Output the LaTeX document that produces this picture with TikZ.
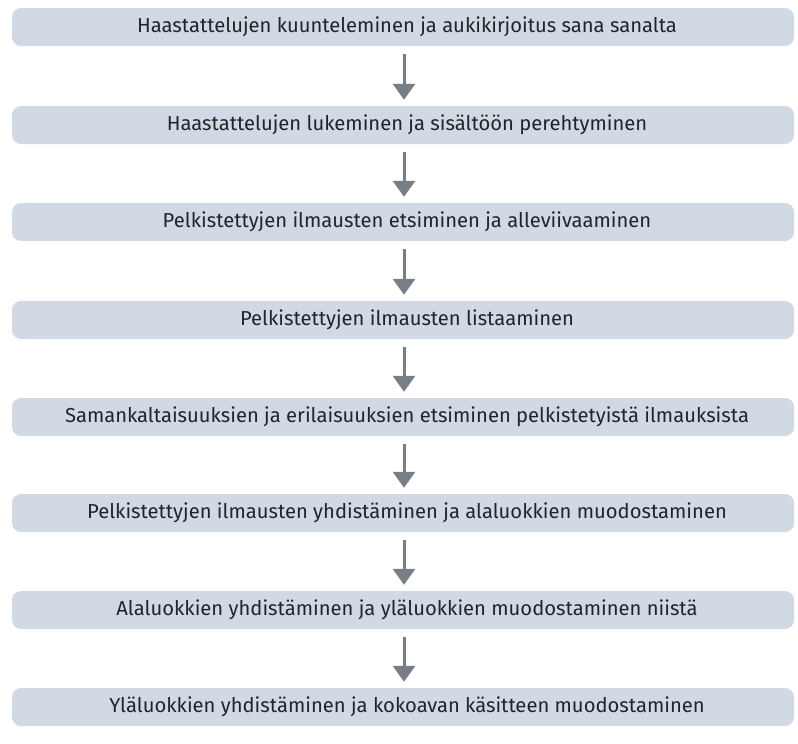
\documentclass[tikz,border=0pt]{standalone}
\usepackage{fontspec}
\setmainfont{Fira Sans}
\usetikzlibrary{arrows.meta}
\definecolor{barfill}{RGB}{208,217,228}
\definecolor{arrowgray}{RGB}{120,126,134}
\definecolor{textdark}{RGB}{34,36,40}
\tikzset{
  bar/.style={fill=barfill, rounded corners=9pt,
    minimum width=782pt, minimum height=38pt, inner sep=0pt},
  label/.style={text=textdark, font=\fontsize{20.2}{22}\selectfont, inner sep=0pt, anchor=center},
  flow/.style={draw=arrowgray, line width=3pt,
    -{Triangle[width=22pt,length=16pt,fill=arrowgray]}}
}
\begin{document}
\begin{tikzpicture}[x=1pt,y=-1pt]
  \useasboundingbox (0,0) rectangle (798,744);
  % process steps, top to bottom
  \foreach \i/\yy in {1/27,2/125,3/222,4/320,5/417,6/513,7/610,8/707}{
    \node[bar] (b\i) at (403,\yy) {};
  }
  \node[label] (t1) at (407,27)  {Haastattelujen kuunteleminen ja aukikirjoitus sana sanalta};
  \node[label] (t2) at (407,125) {Haastattelujen lukeminen ja sisältöön perehtyminen};
  \node[label] (t3) at (407,222) {Pelkistettyjen ilmausten etsiminen ja alleviivaaminen};
  \node[label] (t4) at (407,320) {Pelkistettyjen ilmausten listaaminen};
  \node[label] (t5) at (407,417) {Samankaltaisuuksien ja erilaisuuksien etsiminen pelkistetyistä ilmauksista};
  \node[label] (t6) at (407,513) {Pelkistettyjen ilmausten yhdistäminen ja alaluokkien muodostaminen};
  \node[label] (t7) at (407,610) {Alaluokkien yhdistäminen ja yläluokkien muodostaminen niistä};
  \node[label] (t8) at (407,707) {Yläluokkien yhdistäminen ja kokoavan käsitteen muodostaminen};
  % arrows between consecutive steps, with a gap at both ends
  \foreach \a/\b in {1/2,2/3,3/4,4/5,5/6,6/7,7/8}{
    \draw[flow] ([xshift=1pt,yshift=-8pt]b\a.south) -- ([xshift=1pt,yshift=6pt]b\b.north);
  }
\end{tikzpicture}
\end{document}
